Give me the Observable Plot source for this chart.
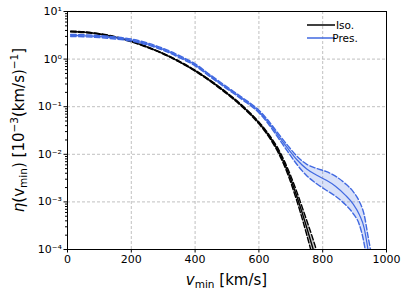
<!DOCTYPE html>
<html><head><meta charset="utf-8">
<script src="https://cdn.jsdelivr.net/npm/d3@7"></script>
<script src="https://cdn.jsdelivr.net/npm/@observablehq/plot@0.6"></script>
<style>
body{margin:0;background:#fff}
#chart svg{display:block}
</style></head><body><div id="chart"></div>
<script>
// Iso. (black) curve and its band
const vIso   = [10, 50, 100, 150, 200, 250, 300, 350, 400, 450, 500, 550, 600, 620, 640, 660, 680, 700, 715, 730, 750, 770, 790];
const isoMid = [3.80, 3.69, 3.37, 2.90, 2.35, 1.79, 1.30, 0.889, 0.571, 0.341, 0.191, 0.0993, 0.0457, 0.0313, 0.0201, 0.0121, 0.00641, 0.00299, 0.00156, 0.000776, 0.000288, 0.000102, 0.0000355];
const isoHi  = [3.87, 3.76, 3.43, 2.95, 2.39, 1.82, 1.32, 0.908, 0.584, 0.350, 0.197, 0.103, 0.0478, 0.0331, 0.0215, 0.0133, 0.00719, 0.00351, 0.00192, 0.000999, 0.000407, 0.000162, 0.0000603];
const isoLo  = [3.73, 3.62, 3.31, 2.85, 2.31, 1.76, 1.28, 0.871, 0.558, 0.332, 0.185, 0.0957, 0.0436, 0.0296, 0.0188, 0.0110, 0.00571, 0.00254, 0.00127, 0.000602, 0.000204, 0.0000644, 0.0000209];
// Pres. (blue) curve and its band
const vPres   = [10, 50, 100, 150, 200, 250, 300, 350, 400, 450, 500, 550, 600, 630, 660, 690, 720, 750, 780, 810, 840, 870, 895, 915, 930, 942, 955];
const presMid = [3.14, 3.09, 2.97, 2.79, 2.51, 2.09, 1.60, 1.135, 0.759, 0.432, 0.248, 0.1445, 0.0794, 0.0468, 0.0251, 0.0135, 0.00759, 0.0049, 0.00367, 0.00288, 0.00214, 0.00141, 0.000912, 0.000537, 0.000282, 0.0001, 0.0000251];
const presHi  = [3.30, 3.24, 3.12, 2.92, 2.64, 2.19, 1.68, 1.19, 0.796, 0.453, 0.261, 0.152, 0.0845, 0.0505, 0.0277, 0.0154, 0.00902, 0.00617, 0.00507, 0.00437, 0.00347, 0.00245, 0.00166, 0.00102, 0.000537, 0.000191, 0.0000661];
const presLo  = [2.99, 2.94, 2.83, 2.65, 2.39, 1.99, 1.53, 1.08, 0.723, 0.411, 0.237, 0.137, 0.0746, 0.0432, 0.0224, 0.0115, 0.00603, 0.00355, 0.00243, 0.00178, 0.00132, 0.000891, 0.000575, 0.000331, 0.000132, 0.0000398, 0.00001];
// ticks
const xTicks = [0, 200, 400, 600, 800, 1000];
const yTicks = [1e-4, 1e-3, 1e-2, 1e-1, 1, 10];
const legendLabels = ["Iso.", "Pres."];
const colors = ["#000000", "#4169e1"];

const W = 409, H = 296, mL = 67, mR = 23, mT = 11, mB = 47;
const iso = vIso.map((v, i) => ({v, mid: isoMid[i], lo: isoLo[i], hi: isoHi[i]}));
const pres = vPres.map((v, i) => ({v, mid: presMid[i], lo: presLo[i], hi: presHi[i]}));
const minor = [];
for (let e = -4; e < 1; e++) for (let k = 2; k < 10; k++) minor.push(k * 10 ** e);
const sup = s => s.replace(/-/g, "\u207B").replace(/\d/g, d => "\u2070\u00B9\u00B2\u00B3\u2074\u2075\u2076\u2077\u2078\u2079"[d]);
const grid = {stroke: "#b0b0b0", strokeOpacity: 1, strokeDasharray: "3,2", strokeWidth: 0.8};
const dash = "5.5,2.4";
const cv = "monotone-x";

const chart = Plot.plot({
  width: W, height: H, marginLeft: mL, marginRight: mR, marginTop: mT, marginBottom: mB,
  style: {fontFamily: "DejaVu Sans", fontSize: "11px", color: "#000", background: "#fff"},
  x: {domain: [0, 1000]},
  y: {type: "log", domain: [1e-4, 10]},
  marks: [
    Plot.gridX(xTicks.slice(1, -1), grid),
    Plot.gridY(yTicks.slice(1, -1), grid),
    Plot.areaY(iso, {x: "v", y1: "lo", y2: "hi", fill: colors[0], fillOpacity: 0.2, curve: cv, clip: true}),
    Plot.lineY(iso, {x: "v", y: "hi", stroke: colors[0], strokeWidth: 1.4, strokeDasharray: dash, curve: cv, clip: true}),
    Plot.lineY(iso, {x: "v", y: "lo", stroke: colors[0], strokeWidth: 1.4, strokeDasharray: dash, curve: cv, clip: true}),
    Plot.lineY(iso, {x: "v", y: "mid", stroke: colors[0], strokeWidth: 1.4, curve: cv, clip: true}),
    Plot.areaY(pres, {x: "v", y1: "lo", y2: "hi", fill: colors[1], fillOpacity: 0.2, curve: cv, clip: true}),
    Plot.lineY(pres, {x: "v", y: "hi", stroke: colors[1], strokeWidth: 1.4, strokeDasharray: dash, curve: cv, clip: true}),
    Plot.lineY(pres, {x: "v", y: "lo", stroke: colors[1], strokeWidth: 1.4, strokeDasharray: dash, curve: cv, clip: true}),
    Plot.lineY(pres, {x: "v", y: "mid", stroke: colors[1], strokeWidth: 1.2, curve: cv, clip: true}),
    Plot.axisX(xTicks, {tickSize: 3.5, tickPadding: 2, tickFormat: d => String(d), label: null}),
    Plot.axisY(yTicks, {tickSize: 3.5, tickPadding: 2, tickFormat: d => "10" + sup(String(Math.round(Math.log10(d)))), label: null}),
    Plot.axisY(minor, {tickSize: 2, tickFormat: () => "", label: null}),
    Plot.frame({stroke: "#000", strokeWidth: 1})
  ]
});
document.getElementById("chart").appendChild(chart);

const svg = d3.select(chart);
const cx = (mL + W - mR) / 2, cy = (mT + H - mB) / 2;
// x label
const xl = svg.append("text").attr("x", cx).attr("y", H - 11).attr("text-anchor", "middle")
  .attr("font-family", "DejaVu Sans").attr("font-size", 15).attr("fill", "#000");
xl.append("tspan").attr("font-style", "italic").text("v");
xl.append("tspan").attr("font-size", 10.5).attr("dy", 3).text("min");
xl.append("tspan").attr("dy", -3).text(" [km/s]");
// y label
const yl = svg.append("text").attr("transform", `translate(24,${cy}) rotate(-90)`).attr("text-anchor", "middle")
  .attr("font-family", "DejaVu Sans").attr("font-size", 15).attr("fill", "#000");
yl.append("tspan").attr("font-style", "italic").text("\u03B7");
yl.append("tspan").text("(v");
yl.append("tspan").attr("font-size", 10.5).attr("dy", 3).text("min");
yl.append("tspan").attr("dy", -3).text(") [10");
yl.append("tspan").attr("font-size", 10.5).attr("dy", -6).text("\u22123");
yl.append("tspan").attr("dy", 6).text("(km/s)");
yl.append("tspan").attr("font-size", 10.5).attr("dy", -6).text("\u22121");
yl.append("tspan").attr("dy", 6).text("]");
// legend
const lg = svg.append("g").attr("font-family", "DejaVu Sans").attr("font-size", 10.5);
legendLabels.forEach((t, i) => {
  const y = mT + 14 + i * 13;
  lg.append("line").attr("x1", W - mR - 79).attr("x2", W - mR - 51).attr("y1", y).attr("y2", y)
    .attr("stroke", colors[i]).attr("stroke-width", 1.5);
  lg.append("text").attr("x", W - mR - 41).attr("y", y).attr("dy", "0.35em").attr("fill", "#000").text(t);
});
</script>
</body></html>
